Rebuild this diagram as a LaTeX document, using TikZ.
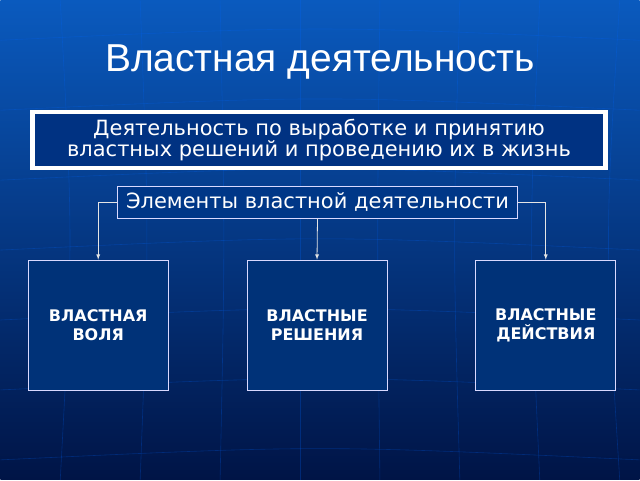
\documentclass[tikz,border=0pt]{standalone}
\usepackage{fontspec}
\setmainfont{DejaVu Sans}
\newfontfamily\titlefont{Liberation Sans}
\begin{document}
\begin{tikzpicture}[x=1pt,y=-1pt,
  txt/.style={text=white,font=\fontsize{21}{21}\selectfont,align=center},
  elbox/.style={draw=white!85!blue,line width=0.8pt,fill={rgb,255:red,0;green,50;blue,120},text=white,
    font=\bfseries\fontsize{16}{19}\selectfont,align=center,minimum width=140pt,minimum height=130pt,inner sep=0pt},
  conn/.style={draw=white!80!gray,line width=0.8pt,-latex}]
\shade[top color={rgb,255:red,10;green,90;blue,190},bottom color={rgb,255:red,0;green,20;blue,70}] (0,0) rectangle (640,480);
\foreach \x in {60,140,220,300,380,460,540,620}
  \draw[blue!60!cyan,opacity=0.25,line width=0.6pt] (\x,0) .. controls (\x*0.95+16,240) .. (\x,480);
\foreach \y in {40,110,180,250,320,390,460}
  \draw[blue!60!cyan,opacity=0.25,line width=0.6pt] (0,\y) .. controls (320,\y-15) .. (640,\y);
\node[text=white,font=\titlefont\fontsize{39}{42}\selectfont] (title) at (320,62) {Властная деятельность};
\node[draw=white,line width=4.5pt,fill={rgb,255:red,0;green,50;blue,130},txt,minimum width=574pt,minimum height=56pt,inner sep=0pt] (def) at (319,140)
  {Деятельность по выработке и принятию\\властных решений и проведению их в жизнь};
\node[draw=white!85!blue,line width=0.8pt,fill={rgb,255:red,0;green,55;blue,135},txt,minimum width=401pt,minimum height=32pt,inner sep=0pt] (el) at (317.5,202) {Элементы властной деятельности};
\node[elbox] (b1) at (98,325) {ВЛАСТНАЯ\\ВОЛЯ};
\node[elbox] (b2) at (317,325) {ВЛАСТНЫЕ\\РЕШЕНИЯ};
\node[elbox] (b3) at (546,325) {ВЛАСТНЫЕ\\ДЕЙСТВИЯ};
\draw[conn] (el.west) -| (b1.north);
\draw[conn] (el.south) -- (b2.north);
\draw[conn] (el.east) -| (b3.north);
\end{tikzpicture}
\end{document}
